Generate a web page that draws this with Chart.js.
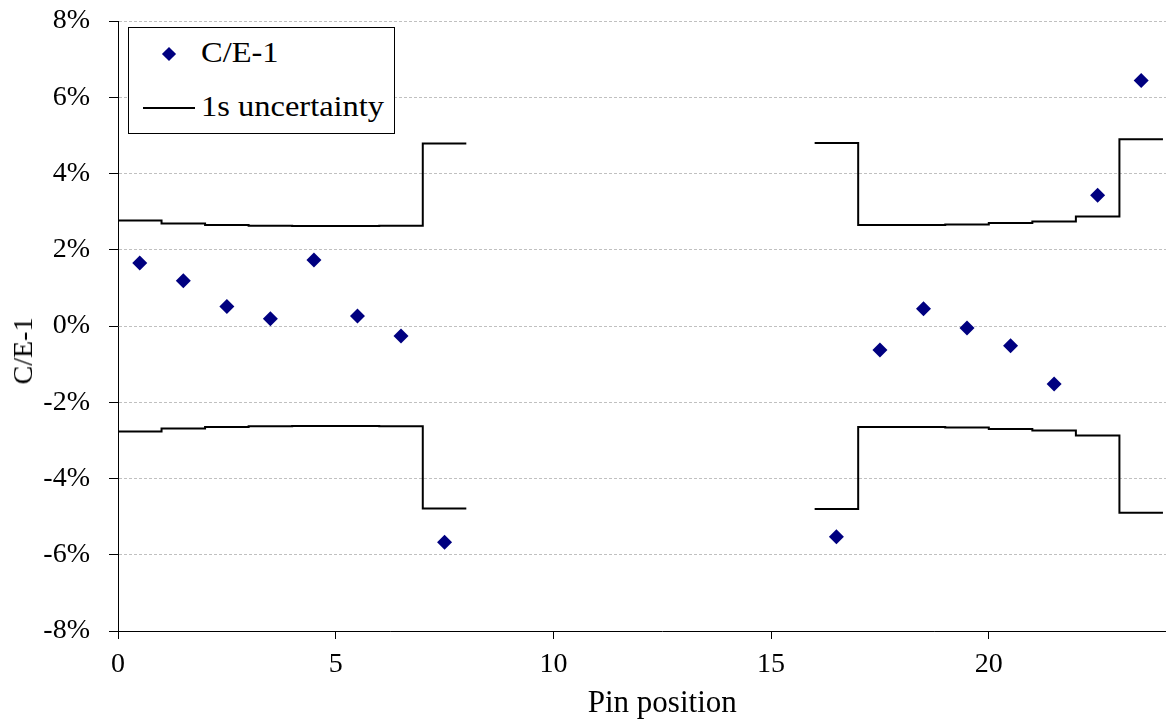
<!DOCTYPE html>
<html>
<head>
<meta charset="utf-8">
<script src="https://cdn.jsdelivr.net/npm/chart.js@4"></script>
<style>
  html, body { margin: 0; padding: 0; background: #fff; overflow: hidden; }
  #wrap { position: relative; width: 1166px; height: 720px; overflow: hidden; }
  #pinChart { position: absolute; left: 0; top: 0; }
  .serif { font-family: "Liberation Serif", "Times New Roman", serif; color: #000; line-height: 1; }
  #ytitle {
    position: absolute; left: 23px; top: 351px; font-size: 28px; white-space: nowrap;
    transform: translate(-50%, -50%) rotate(-90deg);
  }
  #legend {
    position: absolute; left: 128px; top: 27px; width: 265px; height: 105px;
    border: 1px solid #000; background: #fff; font-size: 29px;
  }
  #legend .diamond {
    position: absolute; width: 10px; height: 10px;
    background: #000080; transform: rotate(45deg);
  }
  #legend .row {
    position: absolute; white-space: nowrap;
    transform: scaleX(1.12); transform-origin: 0 0;
  }
  #legend .dash { position: absolute; height: 2px; background: #000; }
</style>
</head>
<body>
<div id="wrap">
  <canvas id="pinChart" width="1214" height="720"></canvas>
  <div id="ytitle" class="serif">C/E-1</div>
  <div id="legend" class="serif">
    <span class="diamond" style="left:35px;top:21px"></span>
    <span class="row" style="left:72px;top:10px">C/E-1</span>
    <span class="dash" style="left:14px;top:79px;width:52px"></span>
    <span class="row" style="left:72px;top:64px">1s uncertainty</span>
  </div>
</div>
<script>
// pin-by-pin C/E-1 values, in percent
const pins = [0.5, 1.5, 2.5, 3.5, 4.5, 5.5, 6.5, 7.5,
              16.5, 17.5, 18.5, 19.5, 20.5, 21.5, 22.5, 23.5];
const ceMinusOne = [1.65, 1.19, 0.51, 0.19, 1.73, 0.26, -0.26, -5.67,
                    -5.53, -0.63, 0.45, -0.05, -0.52, -1.52, 3.43, 6.44];

// 1 sigma uncertainty per pin, drawn as steps (edges 0..8 and 16..24)
const edgesLeft = [0, 1, 2, 3, 4, 5, 6, 7, 8];
const sigmaLeft = [2.77, 2.69, 2.65, 2.63, 2.62, 2.62, 2.63, 4.79];
const edgesRight = [16, 17, 18, 19, 20, 21, 22, 23, 24];
const sigmaRight = [4.80, 2.65, 2.65, 2.66, 2.70, 2.74, 2.87, 4.90];

const yTicks = [-8, -6, -4, -2, 0, 2, 4, 6, 8];
const xTicks = [0, 5, 10, 15, 20, 25];

function stepPoints(sign) {
  const pts = [];
  edgesLeft.forEach((x, i) => {
    const v = sigmaLeft[Math.min(i, sigmaLeft.length - 1)];
    pts.push({ x: x, y: sign * v });
  });
  pts.push({ x: 12, y: null });
  edgesRight.forEach((x, i) => {
    const v = sigmaRight[Math.min(i, sigmaRight.length - 1)];
    pts.push({ x: x, y: sign * v });
  });
  return pts;
}

const serif = '"Liberation Serif", "Times New Roman", serif';

const ctx = document.getElementById("pinChart").getContext("2d");

const pinChart = new Chart(ctx, {
  type: "scatter",
  data: {
    datasets: [{
      label: "C/E-1",
      data: pins.map((p, i) => ({ x: p, y: ceMinusOne[i] })),
      pointStyle: "rectRot",
      pointRadius: 7.5,
      backgroundColor: "#000080",
      borderColor: "#000080",
      borderWidth: 0
    }, {
      type: "line",
      label: "1s uncertainty",
      data: stepPoints(1),
      stepped: "before",
      spanGaps: false,
      borderColor: "#000",
      borderWidth: 2,
      pointRadius: 0,
      fill: false
    }, {
      type: "line",
      label: "1s uncertainty",
      data: stepPoints(-1),
      stepped: "before",
      spanGaps: false,
      borderColor: "#000",
      borderWidth: 2,
      pointRadius: 0,
      fill: false
    }]
  },
  options: {
    responsive: false,
    animation: false,
    layout: { padding: { top: 21, right: 0, left: 0, bottom: 0 } },
    plugins: {
      legend: { display: false },
      tooltip: { enabled: false }
    },
    scales: {
      x: {
        type: "linear",
        min: 0,
        max: 25,
        afterBuildTicks: (scale) => {
          scale.ticks = xTicks.map(v => ({ value: v }));
        },
        afterFit: (scale) => {
          scale.height = 89;
          scale.paddingLeft = 0;
          scale.paddingRight = 0;
        },
        grid: {
          drawOnChartArea: false,
          drawTicks: true,
          tickLength: 8,
          tickColor: "#000"
        },
        border: { color: "#000", width: 1 },
        ticks: {
          color: "#000",
          padding: 9,
          maxRotation: 0,
          font: { family: serif, size: 28 }
        },
        title: {
          display: true,
          text: "Pin position",
          color: "#000",
          padding: { top: 0, bottom: 1 },
          font: { family: serif, size: 31, lineHeight: 1 }
        }
      },
      y: {
        min: -8,
        max: 8,
        afterBuildTicks: (scale) => {
          scale.ticks = yTicks.map(v => ({ value: v }));
        },
        afterFit: (scale) => {
          scale.width = 118;
          scale.paddingTop = 0;
          scale.paddingBottom = 0;
        },
        grid: {
          color: "#c0c0c0",
          lineWidth: 1,
          drawTicks: true,
          tickLength: 9,
          tickColor: "#000"
        },
        border: { color: "#000", width: 1, dash: [3, 2] },
        ticks: {
          color: "#000",
          padding: 19,
          callback: (v) => v + "%",
          font: { family: serif, size: 28 }
        },
        title: { display: false }
      }
    }
  }
});
</script>
</body>
</html>
